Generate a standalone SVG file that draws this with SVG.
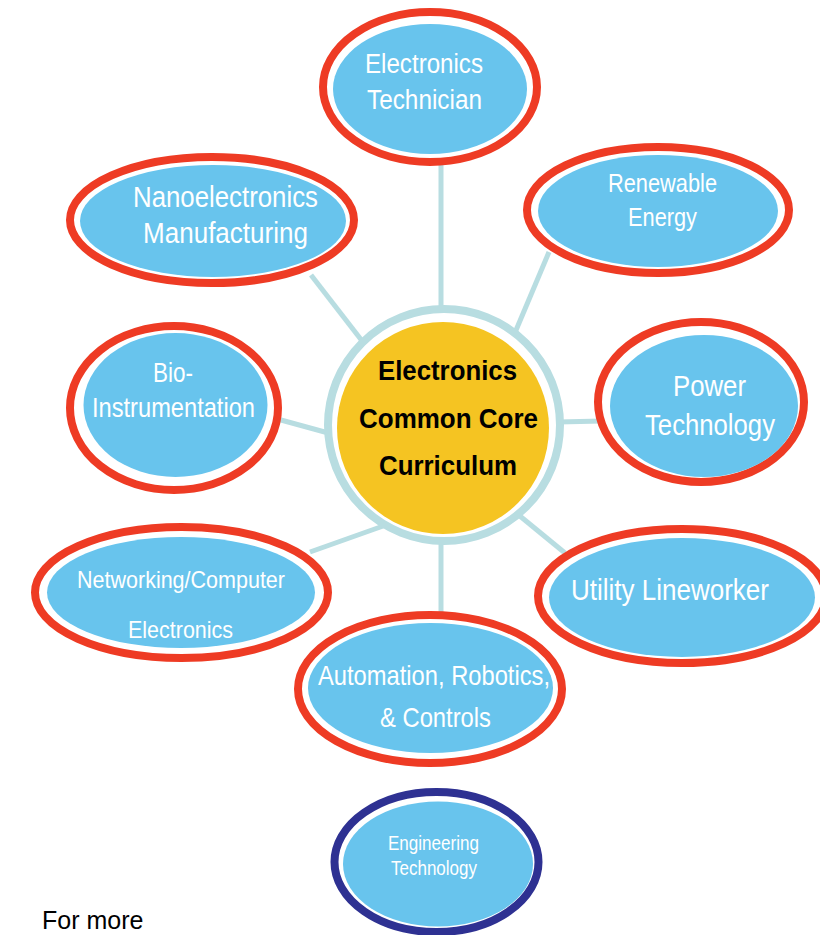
<svg xmlns="http://www.w3.org/2000/svg" width="820" height="935" viewBox="0 0 820 935">
<style>
.ring{fill:#FFFFFF;stroke:#EE3B24;stroke-width:8}
.navy{fill:#FFFFFF;stroke:#2E3192;stroke-width:8}
.fill{fill:#68C4ED}
.lbl{font-family:"Liberation Sans",Arial,sans-serif;fill:#FFFFFF;text-anchor:middle}
.core{font-family:"Liberation Sans",Arial,sans-serif;font-weight:bold;fill:#000000;text-anchor:middle}
.conn{stroke:#B8DDE1;stroke-width:5;fill:none}
</style>
<rect width="820" height="935" fill="#FFFFFF"/>
<g id="connectors">
<line class="conn" x1="441" y1="160" x2="441" y2="310"/>
<line class="conn" x1="311" y1="275" x2="366" y2="346"/>
<line class="conn" x1="549" y1="252" x2="514" y2="335"/>
<line class="conn" x1="558" y1="422" x2="602" y2="421"/>
<line class="conn" x1="270" y1="417" x2="332" y2="434"/>
<line class="conn" x1="310" y1="552" x2="386" y2="525"/>
<line class="conn" x1="565" y1="553" x2="515" y2="512"/>
<line class="conn" x1="441" y1="535" x2="441" y2="615"/>
</g>
<g id="core">
<circle cx="444" cy="425" r="116" fill="#FFFFFF" stroke="#B8DDE1" stroke-width="8"/>
<circle cx="443" cy="428" r="106" fill="#F5C422"/>
<text class="core" x="447.5" y="380" font-size="28" textLength="139" lengthAdjust="spacingAndGlyphs">Electronics</text>
<text class="core" x="448.5" y="428" font-size="28" textLength="179" lengthAdjust="spacingAndGlyphs">Common Core</text>
<text class="core" x="448" y="475" font-size="28" textLength="138" lengthAdjust="spacingAndGlyphs">Curriculum</text>
</g>
<g id="electronics-technician">
<ellipse class="ring" cx="430" cy="87" rx="107" ry="75"/>
<ellipse class="fill" cx="430" cy="89" rx="97" ry="65"/>
<text class="lbl" x="424" y="73" font-size="27" textLength="118" lengthAdjust="spacingAndGlyphs">Electronics</text>
<text class="lbl" x="424.5" y="109" font-size="27" textLength="115" lengthAdjust="spacingAndGlyphs">Technician</text>
</g>
<g id="nanoelectronics">
<ellipse class="ring" cx="212" cy="220" rx="142" ry="63"/>
<ellipse class="fill" cx="213" cy="221" rx="133" ry="56"/>
<text class="lbl" x="225.5" y="207" font-size="29" textLength="185" lengthAdjust="spacingAndGlyphs">Nanoelectronics</text>
<text class="lbl" x="225.5" y="243" font-size="29" textLength="165" lengthAdjust="spacingAndGlyphs">Manufacturing</text>
</g>
<g id="renewable-energy">
<ellipse class="ring" cx="658" cy="210" rx="131" ry="63"/>
<ellipse class="fill" cx="658" cy="211" rx="120" ry="56"/>
<text class="lbl" x="662.5" y="192" font-size="25" textLength="109" lengthAdjust="spacingAndGlyphs">Renewable</text>
<text class="lbl" x="662.5" y="226" font-size="25" textLength="69" lengthAdjust="spacingAndGlyphs">Energy</text>
</g>
<g id="power-technology">
<ellipse class="ring" cx="701" cy="402" rx="103" ry="80"/>
<ellipse class="fill" cx="704" cy="406" rx="94" ry="71"/>
<text class="lbl" x="709.5" y="396" font-size="30" textLength="73" lengthAdjust="spacingAndGlyphs">Power</text>
<text class="lbl" x="710" y="435" font-size="30" textLength="130" lengthAdjust="spacingAndGlyphs">Technology</text>
</g>
<g id="bio-instrumentation">
<ellipse class="ring" cx="174" cy="408" rx="104" ry="82"/>
<ellipse class="fill" cx="175.5" cy="405" rx="92" ry="72"/>
<text class="lbl" x="173" y="382" font-size="28" textLength="40" lengthAdjust="spacingAndGlyphs">Bio-</text>
<text class="lbl" x="173.5" y="417" font-size="28" textLength="163" lengthAdjust="spacingAndGlyphs">Instrumentation</text>
</g>
<g id="networking-computer">
<ellipse class="ring" cx="181.5" cy="592.5" rx="146.5" ry="65.5"/>
<ellipse class="fill" cx="181" cy="592.5" rx="134" ry="55.5"/>
<text class="lbl" x="181" y="588" font-size="24" textLength="208" lengthAdjust="spacingAndGlyphs">Networking/Computer</text>
<text class="lbl" x="180.5" y="638" font-size="24" textLength="105" lengthAdjust="spacingAndGlyphs">Electronics</text>
</g>
<g id="utility-lineworker">
<ellipse class="ring" cx="682" cy="596" rx="144" ry="67"/>
<ellipse class="fill" cx="682" cy="597.5" rx="133" ry="59.5"/>
<text class="lbl" x="670" y="600" font-size="30" textLength="198" lengthAdjust="spacingAndGlyphs">Utility Lineworker</text>
</g>
<g id="automation-robotics">
<ellipse class="ring" cx="430" cy="689" rx="132" ry="74"/>
<ellipse class="fill" cx="430.5" cy="688" rx="122.5" ry="65"/>
<text class="lbl" x="434" y="685" font-size="28" textLength="232" lengthAdjust="spacingAndGlyphs">Automation, Robotics,</text>
<text class="lbl" x="435.5" y="727" font-size="28" textLength="111" lengthAdjust="spacingAndGlyphs">&amp; Controls</text>
</g>
<g id="engineering-technology">
<ellipse class="navy" cx="436.5" cy="862" rx="102" ry="70"/>
<ellipse class="fill" cx="438" cy="864" rx="95" ry="62.5"/>
<text class="lbl" x="433.5" y="850" font-size="20" textLength="91" lengthAdjust="spacingAndGlyphs">Engineering</text>
<text class="lbl" x="434" y="875" font-size="20" textLength="86" lengthAdjust="spacingAndGlyphs">Technology</text>
</g>
<text x="42" y="929" font-family="'Liberation Sans',Arial,sans-serif" font-size="25" fill="#000000">For more</text>
</svg>
